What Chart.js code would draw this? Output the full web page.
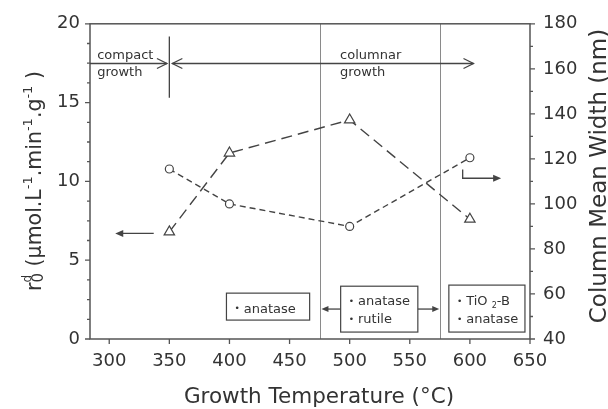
<!DOCTYPE html>
<html><head><meta charset="utf-8">
<script src="https://cdn.jsdelivr.net/npm/chart.js@4.4.1/dist/chart.umd.min.js"></script>
<style>html,body{margin:0;padding:0;background:#fff}#wrap{width:608px;height:409px}</style>
</head><body><div id="wrap"><canvas id="c" width="608" height="409"></canvas></div>
<script>
// ---- data ----
const temperatures = [350, 400, 500, 600];
const rateValues = [6.8, 11.8, 13.9, 7.6];          // r0^d, left axis
const widthValues = [115.5, 100, 90, 120.5];         // column mean width (nm), right axis
const xTicks = [300, 350, 400, 450, 500, 550, 600, 650];
const leftTicks = [0, 5, 10, 15, 20];
const leftMinorTicks = [1.25, 2.5, 3.75, 6.25, 7.5, 8.75, 11.25, 12.5, 13.75, 16.25, 17.5, 18.75];
const rightTicks = [40, 60, 80, 100, 120, 140, 160, 180];
const rightMinorTicks = [50, 70, 90, 110, 130, 150, 170];
const phaseBoundaries = [475, 575];
const xTitle = 'Growth Temperature (°C)';
const rightTitle = 'Column Mean Width (nm)';

const FONT = '"DejaVu Sans", Verdana, sans-serif';
const TXT = '#333';
const AX = '#555';

function drawArrowHead(ctx, x, y, dir, len, half, filled) {
  ctx.beginPath();
  ctx.moveTo(x - dir * len, y - half);
  ctx.lineTo(x, y);
  ctx.lineTo(x - dir * len, y + half);
  if (filled) { ctx.closePath(); ctx.fill(); } else ctx.stroke();
}

function drawRich(ctx, segs, x, y) {
  let total = 0;
  const parts = segs.map(s => {
    if (s.stack) {
      const ws = s.stack.map(p => { ctx.font = p.size + 'px ' + FONT; return ctx.measureText(p.t).width; });
      const w = Math.max(...ws); total += w; return { w, s };
    }
    ctx.font = s.size + 'px ' + FONT; const w = ctx.measureText(s.t).width; total += w; return { w, s };
  });
  let cx = x - total / 2;
  ctx.textAlign = 'left'; ctx.textBaseline = 'alphabetic';
  parts.forEach(({ w, s }) => {
    const items = s.stack ? s.stack : [s];
    items.forEach(p => { ctx.font = p.size + 'px ' + FONT; ctx.fillText(p.t, cx, y + (p.dy || 0)); });
    cx += w;
  });
}

const annotPlugin = {
  id: 'annot',
  beforeDatasetsDraw(chart) {
    const { ctx, chartArea: a } = chart;
    const xs = chart.scales.x;
    ctx.save();
    ctx.strokeStyle = '#8a8a8a'; ctx.lineWidth = 1;
    phaseBoundaries.forEach(v => {
      const px = Math.round(xs.getPixelForValue(v)) + 0.5;
      ctx.beginPath(); ctx.moveTo(px, a.top); ctx.lineTo(px, a.bottom); ctx.stroke();
    });
    ctx.restore();
  },
  afterDatasetsDraw(chart) {
    const { ctx, chartArea: a } = chart;
    const xs = chart.scales.x, ys = chart.scales.y, y2 = chart.scales.y2;
    const X = v => xs.getPixelForValue(v), Y = v => ys.getPixelForValue(v);
    ctx.save();
    // frame
    ctx.strokeStyle = AX; ctx.lineWidth = 1.5;
    ctx.strokeRect(a.left, a.top, a.right - a.left, a.bottom - a.top);
    // ticks
    ctx.lineWidth = 1.3;
    ctx.beginPath();
    xTicks.forEach(v => { const p = X(v); ctx.moveTo(p, a.bottom); ctx.lineTo(p, a.bottom + 5); });
    leftTicks.forEach(v => { const p = Y(v); ctx.moveTo(a.left - 5, p); ctx.lineTo(a.left, p); });
    leftMinorTicks.forEach(v => { const p = Y(v); ctx.moveTo(a.left - 3, p); ctx.lineTo(a.left, p); });
    rightTicks.forEach(v => { const p = y2.getPixelForValue(v); ctx.moveTo(a.right, p); ctx.lineTo(a.right + 5, p); });
    rightMinorTicks.forEach(v => { const p = y2.getPixelForValue(v); ctx.moveTo(a.right, p); ctx.lineTo(a.right + 3, p); });
    ctx.stroke();

    // growth-regime arrows
    ctx.strokeStyle = '#444'; ctx.fillStyle = '#444'; ctx.lineWidth = 1.3;
    const ay = Math.round(Y(17.5)) + 0.5;
    ctx.beginPath(); ctx.moveTo(X(350), Y(19.2)); ctx.lineTo(X(350), Y(15.3)); ctx.stroke();
    ctx.beginPath(); ctx.moveTo(a.left, ay); ctx.lineTo(X(348), ay); ctx.stroke();
    drawArrowHead(ctx, X(348), ay, 1, 10, 5, false);
    ctx.beginPath(); ctx.moveTo(X(352.5), ay); ctx.lineTo(X(603), ay); ctx.stroke();
    drawArrowHead(ctx, X(352.5), ay, -1, 10, 5, false);
    drawArrowHead(ctx, X(603), ay, 1, 10, 5, false);

    // axis indicator arrows
    const ly = Y(6.7);
    ctx.beginPath(); ctx.moveTo(X(337), ly); ctx.lineTo(X(310), ly); ctx.stroke();
    drawArrowHead(ctx, X(305), ly, -1, 8, 3.5, true);
    ctx.beginPath(); ctx.moveTo(X(594), Y(10.75)); ctx.lineTo(X(594), Y(10.2)); ctx.lineTo(X(621), Y(10.2)); ctx.stroke();
    drawArrowHead(ctx, X(626), Y(10.2), 1, 8, 3.5, true);

    // phase boxes
    ctx.lineWidth = 1.2; ctx.strokeStyle = '#444';
    const box = (x0, x1, yt, yb) => ctx.strokeRect(X(x0), Y(yt), X(x1) - X(x0), Y(yb) - Y(yt));
    box(397.5, 466.7, 2.91, 1.2);
    box(492.5, 556.7, 3.35, 0.44);
    box(582.5, 645.8, 3.42, 0.44);
    const by = Y(1.9);
    ctx.lineWidth = 1.3;
    ctx.beginPath(); ctx.moveTo(X(492.5), by); ctx.lineTo(X(481), by); ctx.stroke();
    drawArrowHead(ctx, X(476.5), by, -1, 7, 3, true);
    ctx.beginPath(); ctx.moveTo(X(556.7), by); ctx.lineTo(X(570), by); ctx.stroke();
    drawArrowHead(ctx, X(574.5), by, 1, 7, 3, true);

    // texts
    ctx.fillStyle = TXT; ctx.textAlign = 'left'; ctx.textBaseline = 'alphabetic';
    ctx.font = '13px ' + FONT;
    ctx.fillText('compact', X(290), Y(17.75));
    ctx.fillText('growth', X(290), Y(16.7));
    ctx.fillText('columnar', X(492), Y(17.75));
    ctx.fillText('growth', X(492), Y(16.7));
    const bullet = (x, y) => {
      ctx.font = '9px ' + FONT; ctx.textAlign = 'center';
      ctx.fillText('•', X(x), Y(y) - 1.5);
      ctx.textAlign = 'left'; ctx.font = '13px ' + FONT;
      return X(x) + 6.5;
    };
    const item = (x, y, t) => { const tx = bullet(x, y); ctx.fillText(t, tx, Y(y)); };
    item(406.5, 1.68, 'anatase');
    item(501.5, 2.15, 'anatase');
    item(501.5, 1.0, 'rutile');
    // TiO2-B
    let tx = bullet(591.5, 2.15);
    ctx.fillText('TiO ', tx, Y(2.15)); tx += ctx.measureText('TiO ').width;
    ctx.font = '8px ' + FONT; ctx.fillText('2', tx, Y(2.15) + 3); tx += ctx.measureText('2').width;
    ctx.font = '13px ' + FONT; ctx.fillText('-B', tx, Y(2.15));
    item(591.5, 1.0, 'anatase');

    // axis titles
    ctx.fillStyle = TXT;
    ctx.font = '21.5px ' + FONT; ctx.textAlign = 'center';
    ctx.fillText(xTitle, 319, 403);
    ctx.save(); ctx.translate(606, 176); ctx.rotate(-Math.PI / 2);
    ctx.font = '23px ' + FONT; ctx.fillText(rightTitle, 0, 0); ctx.restore();
    ctx.save(); ctx.translate(41, 181); ctx.rotate(-Math.PI / 2);
    drawRich(ctx, [
      { t: 'r', size: 20.5 },
      { stack: [{ t: '0', size: 15, dy: 2 }, { t: 'd', size: 12, dy: -10 }] },
      { t: ' (µmol.L', size: 20.5 },
      { t: '-1', size: 13, dy: -9 },
      { t: '.min', size: 20.5 },
      { t: '-1', size: 13, dy: -9 },
      { t: '.g', size: 20.5 },
      { t: '-1', size: 13, dy: -9 },
      { t: ' )', size: 20.5 }
    ], 0, 0);
    ctx.restore();
    ctx.restore();
  }
};

const setTicks = arr => s => { s.ticks = arr.map(v => ({ value: v })); };
const tickFont = { family: FONT, size: 18 };

new Chart(document.getElementById('c'), {
  type: 'line',
  data: {
    datasets: [
      {
        label: 'rate',
        data: temperatures.map((t, i) => ({ x: t, y: rateValues[i] })),
        yAxisID: 'y',
        borderColor: '#444', borderWidth: 1.4, borderDash: [11, 6],
        pointStyle: 'triangle', pointRadius: 6, pointBorderWidth: 1.2,
        pointBackgroundColor: '#fff', pointBorderColor: '#444', fill: false, tension: 0
      },
      {
        label: 'width',
        data: temperatures.map((t, i) => ({ x: t, y: widthValues[i] })),
        yAxisID: 'y2',
        borderColor: '#444', borderWidth: 1.4, borderDash: [6, 4],
        pointStyle: 'circle', pointRadius: 4, pointBorderWidth: 1.2,
        pointBackgroundColor: '#fff', pointBorderColor: '#444', fill: false, tension: 0
      }
    ]
  },
  options: {
    responsive: false, animation: false, devicePixelRatio: 1,
    layout: { padding: { top: 23, left: 0, right: 0, bottom: 0 } },
    plugins: { legend: { display: false }, tooltip: { enabled: false } },
    scales: {
      x: {
        type: 'linear', min: 284, max: 650,
        afterBuildTicks: setTicks(xTicks),
        afterFit: s => { s.height = 70; },
        grid: { display: false, drawTicks: false }, border: { display: false },
        ticks: { font: tickFont, color: TXT, padding: 12, maxRotation: 0 }
      },
      y: {
        position: 'left', min: 0, max: 20,
        afterBuildTicks: setTicks(leftTicks),
        afterFit: s => { s.width = 90; },
        grid: { display: false, drawTicks: false }, border: { display: false },
        ticks: { font: tickFont, color: TXT, padding: 10 }
      },
      y2: {
        position: 'right', min: 40, max: 180,
        afterBuildTicks: setTicks(rightTicks),
        afterFit: s => { s.width = 78; },
        grid: { display: false, drawTicks: false }, border: { display: false },
        ticks: { font: tickFont, color: TXT, padding: 13 }
      }
    }
  },
  plugins: [annotPlugin]
});
</script>
</body></html>
